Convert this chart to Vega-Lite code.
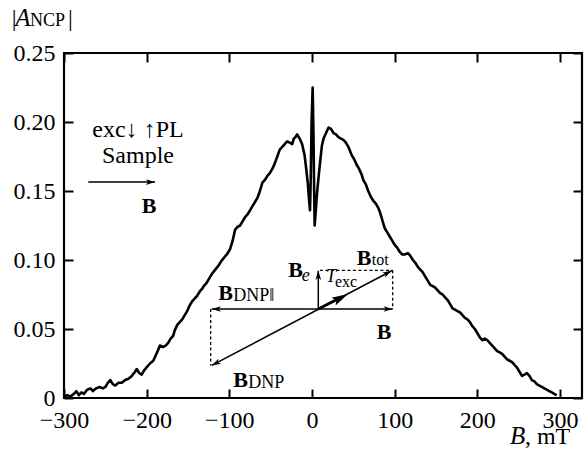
{
  "$schema": "https://vega.github.io/schema/vega-lite/v6.json",
  "autosize": {"type": "none"},
  "width": 518,
  "height": 345,
  "padding": {"left": 64, "top": 53, "right": 2, "bottom": 59},
  "background": "white",
  "config": {
    "view": {"stroke": "black", "strokeWidth": 2.2},
    "axis": {
      "domain": false, "grid": false, "title": null,
      "tickColor": "black", "tickWidth": 2, "tickSize": -9,
      "labelFont": "Liberation Serif", "labelFontSize": 24, "labelColor": "black"
    }
  },
  "datasets": {
    "curve": [
      {"B": -300, "A": 0.001}, {"B": -296, "A": 0.002}, {"B": -292, "A": 0.001}, {"B": -288, "A": 0.003},
      {"B": -285, "A": 0.005}, {"B": -282, "A": 0.002}, {"B": -279, "A": 0.004}, {"B": -276, "A": 0.003},
      {"B": -272, "A": 0.006}, {"B": -268, "A": 0.007}, {"B": -265, "A": 0.005}, {"B": -261, "A": 0.007},
      {"B": -257, "A": 0.008}, {"B": -253, "A": 0.007}, {"B": -250, "A": 0.008}, {"B": -247, "A": 0.011},
      {"B": -244, "A": 0.013}, {"B": -241, "A": 0.01}, {"B": -238, "A": 0.009}, {"B": -234, "A": 0.011},
      {"B": -230, "A": 0.011}, {"B": -226, "A": 0.013}, {"B": -222, "A": 0.014}, {"B": -218, "A": 0.016},
      {"B": -214, "A": 0.019}, {"B": -212, "A": 0.021}, {"B": -209, "A": 0.018}, {"B": -206, "A": 0.017},
      {"B": -203, "A": 0.02}, {"B": -199, "A": 0.023}, {"B": -196, "A": 0.025}, {"B": -192, "A": 0.027},
      {"B": -189, "A": 0.031}, {"B": -186, "A": 0.035}, {"B": -184, "A": 0.038}, {"B": -180, "A": 0.037},
      {"B": -177, "A": 0.038}, {"B": -174, "A": 0.04}, {"B": -171, "A": 0.043}, {"B": -168, "A": 0.045},
      {"B": -166, "A": 0.049}, {"B": -163, "A": 0.053}, {"B": -160, "A": 0.055}, {"B": -157, "A": 0.057},
      {"B": -154, "A": 0.06}, {"B": -151, "A": 0.063}, {"B": -148, "A": 0.067}, {"B": -145, "A": 0.07},
      {"B": -142, "A": 0.072}, {"B": -139, "A": 0.074}, {"B": -136, "A": 0.077}, {"B": -133, "A": 0.079},
      {"B": -131, "A": 0.081}, {"B": -128, "A": 0.083}, {"B": -125, "A": 0.086}, {"B": -121, "A": 0.09},
      {"B": -117, "A": 0.093}, {"B": -113, "A": 0.096}, {"B": -110, "A": 0.099}, {"B": -106, "A": 0.102},
      {"B": -103, "A": 0.104}, {"B": -99, "A": 0.108}, {"B": -96, "A": 0.114}, {"B": -93, "A": 0.122},
      {"B": -90, "A": 0.124}, {"B": -87, "A": 0.125}, {"B": -84, "A": 0.128}, {"B": -81, "A": 0.131},
      {"B": -78, "A": 0.133}, {"B": -75, "A": 0.136}, {"B": -72, "A": 0.139}, {"B": -69, "A": 0.142},
      {"B": -66, "A": 0.145}, {"B": -63, "A": 0.15}, {"B": -60, "A": 0.156}, {"B": -57, "A": 0.158},
      {"B": -54, "A": 0.161}, {"B": -51, "A": 0.163}, {"B": -48, "A": 0.166}, {"B": -45, "A": 0.17},
      {"B": -42, "A": 0.175}, {"B": -39, "A": 0.18}, {"B": -36, "A": 0.182}, {"B": -33, "A": 0.184},
      {"B": -30, "A": 0.186}, {"B": -27, "A": 0.185}, {"B": -24, "A": 0.184}, {"B": -22, "A": 0.188},
      {"B": -20, "A": 0.189}, {"B": -18, "A": 0.191}, {"B": -15, "A": 0.188}, {"B": -12, "A": 0.184},
      {"B": -9, "A": 0.176}, {"B": -7, "A": 0.166}, {"B": -5, "A": 0.155}, {"B": -3.5, "A": 0.143},
      {"B": -2.4, "A": 0.136}, {"B": -1.5, "A": 0.16}, {"B": -0.5, "A": 0.2}, {"B": 0.8, "A": 0.225},
      {"B": 1.8, "A": 0.19}, {"B": 2.6, "A": 0.15}, {"B": 3.2, "A": 0.125}, {"B": 4.5, "A": 0.135},
      {"B": 6, "A": 0.148}, {"B": 7.6, "A": 0.158}, {"B": 10, "A": 0.172}, {"B": 12, "A": 0.183},
      {"B": 14, "A": 0.188}, {"B": 17, "A": 0.192}, {"B": 20, "A": 0.196}, {"B": 23, "A": 0.195},
      {"B": 26, "A": 0.192}, {"B": 29, "A": 0.191}, {"B": 32, "A": 0.189}, {"B": 35, "A": 0.188},
      {"B": 38, "A": 0.187}, {"B": 41, "A": 0.185}, {"B": 44, "A": 0.182}, {"B": 46, "A": 0.179},
      {"B": 48, "A": 0.176}, {"B": 51, "A": 0.173}, {"B": 54, "A": 0.169}, {"B": 57, "A": 0.166},
      {"B": 60, "A": 0.162}, {"B": 62, "A": 0.158}, {"B": 65, "A": 0.155}, {"B": 68, "A": 0.15},
      {"B": 71, "A": 0.146}, {"B": 74, "A": 0.143}, {"B": 77, "A": 0.141}, {"B": 80, "A": 0.138},
      {"B": 82, "A": 0.135}, {"B": 85, "A": 0.129}, {"B": 88, "A": 0.123}, {"B": 91, "A": 0.12},
      {"B": 94, "A": 0.117}, {"B": 97, "A": 0.114}, {"B": 100, "A": 0.111}, {"B": 103, "A": 0.109},
      {"B": 106, "A": 0.106}, {"B": 109, "A": 0.104}, {"B": 112, "A": 0.104}, {"B": 116, "A": 0.105},
      {"B": 119, "A": 0.103}, {"B": 122, "A": 0.1}, {"B": 125, "A": 0.098}, {"B": 128, "A": 0.095},
      {"B": 131, "A": 0.093}, {"B": 134, "A": 0.091}, {"B": 137, "A": 0.088}, {"B": 140, "A": 0.085},
      {"B": 143, "A": 0.082}, {"B": 146, "A": 0.081}, {"B": 149, "A": 0.08}, {"B": 152, "A": 0.078},
      {"B": 155, "A": 0.076}, {"B": 158, "A": 0.075}, {"B": 161, "A": 0.073}, {"B": 164, "A": 0.071},
      {"B": 167, "A": 0.068}, {"B": 170, "A": 0.065}, {"B": 173, "A": 0.064}, {"B": 176, "A": 0.063},
      {"B": 179, "A": 0.062}, {"B": 182, "A": 0.06}, {"B": 185, "A": 0.058}, {"B": 188, "A": 0.057},
      {"B": 191, "A": 0.055}, {"B": 194, "A": 0.052}, {"B": 197, "A": 0.05}, {"B": 200, "A": 0.047},
      {"B": 203, "A": 0.044}, {"B": 206, "A": 0.042}, {"B": 209, "A": 0.043}, {"B": 212, "A": 0.042},
      {"B": 215, "A": 0.04}, {"B": 218, "A": 0.038}, {"B": 221, "A": 0.036}, {"B": 224, "A": 0.034},
      {"B": 227, "A": 0.033}, {"B": 230, "A": 0.032}, {"B": 233, "A": 0.03}, {"B": 236, "A": 0.028},
      {"B": 239, "A": 0.027}, {"B": 242, "A": 0.026}, {"B": 245, "A": 0.024}, {"B": 248, "A": 0.022},
      {"B": 251, "A": 0.019}, {"B": 254, "A": 0.016}, {"B": 257, "A": 0.017}, {"B": 260, "A": 0.018},
      {"B": 263, "A": 0.016}, {"B": 266, "A": 0.013}, {"B": 269, "A": 0.012}, {"B": 272, "A": 0.01},
      {"B": 275, "A": 0.009}, {"B": 278, "A": 0.008}, {"B": 281, "A": 0.007}, {"B": 284, "A": 0.006},
      {"B": 287, "A": 0.005}, {"B": 290, "A": 0.004}, {"B": 293, "A": 0.003}, {"B": 296, "A": 0.002}
    ],
    "solid": [
      {"x1": -121.3, "y1": 0.0645, "x2": 97.6, "y2": 0.0645},
      {"x1": 7.6, "y1": 0.0645, "x2": 7.6, "y2": 0.0922},
      {"x1": -121.3, "y1": 0.0236, "x2": 96.4, "y2": 0.0922},
      {"x1": -270.6, "y1": 0.1565, "x2": -189.9, "y2": 0.1565}
    ],
    "thick": [
      {"x1": 7.6, "y1": 0.0645, "x2": 36, "y2": 0.0732}
    ],
    "dashed": [
      {"x1": 9.6, "y1": 0.0925, "x2": 97.6, "y2": 0.0925},
      {"x1": 97.6, "y1": 0.0925, "x2": 97.6, "y2": 0.0645},
      {"x1": -122.6, "y1": 0.0645, "x2": -122.6, "y2": 0.0236}
    ],
    "headsRight": [
      {"x": 97.6, "y": 0.0645},
      {"x": -189.9, "y": 0.1565}
    ],
    "headsLeft": [
      {"x": -121.3, "y": 0.0645}
    ],
    "headsUp": [
      {"x": 7.6, "y": 0.0922}
    ],
    "headsUpRight": [
      {"x": 96.4, "y": 0.0922}
    ],
    "headsDownLeft": [
      {"x": -121.3, "y": 0.0236}
    ],
    "bigHead": [
      {"x": 43.6, "y": 0.0754}
    ],
    "centerText": [
      {"x": -210.5, "y": 0.1892, "t": "exc↓ ↑PL"},
      {"x": -210.5, "y": 0.1705, "t": "Sample"}
    ],
    "boldText": [
      {"x": -206, "y": 0.1344, "t": "B"},
      {"x": 54.1, "y": 0.0965, "t": "B"},
      {"x": -28.7, "y": 0.0879, "t": "B"},
      {"x": 78.3, "y": 0.0429, "t": "B"},
      {"x": -113.3, "y": 0.071, "t": "B"},
      {"x": -95.2, "y": 0.008, "t": "B"}
    ],
    "subText": [
      {"x": -95.2, "y": 0.0705, "t": "DNP‖"},
      {"x": -77.1, "y": 0.0074, "t": "DNP"},
      {"x": -341.1, "y": 0.2694, "t": "NCP"}
    ],
    "subSmall": [
      {"x": 72.2, "y": 0.0965, "t": "tot"},
      {"x": 27.8, "y": 0.0802, "t": "exc"}
    ],
    "smallItalic": [
      {"x": -12.5, "y": 0.085, "t": "e"},
      {"x": 16.9, "y": 0.0838, "t": "T"}
    ],
    "plainLeft": [
      {"x": -363.3, "y": 0.2694, "t": "|"},
      {"x": -295.2, "y": 0.2694, "t": "|"},
      {"x": 257.5, "y": -0.0332, "t": ", mT"}
    ],
    "italicLarge": [
      {"x": -359, "y": 0.2694, "t": "A"},
      {"x": 239.5, "y": -0.0332, "t": "B"}
    ]
  },
  "resolve": {"axis": {"x": "independent", "y": "independent"}},
  "layer": [
    {
      "data": {"name": "curve"},
      "mark": {"type": "line", "color": "black", "strokeWidth": 2.6, "strokeJoin": "round"},
      "encoding": {
        "x": {"field": "B", "type": "quantitative",
              "scale": {"domain": [-300, 326.6], "nice": false, "zero": false},
              "axis": {"orient": "bottom", "values": [-300, -200, -100, 0, 100, 200, 300], "labelPadding": 19, "labelFlush": false}},
        "y": {"field": "A", "type": "quantitative",
              "scale": {"domain": [0, 0.25], "nice": false, "zero": false},
              "axis": {"orient": "left", "values": [0, 0.05, 0.1, 0.15, 0.2, 0.25], "labelPadding": 18, "labelFlush": false,
                       "labelExpr": "datum.value == 0 ? '0' : format(datum.value, '.2f')"}}
      }
    },
    {
      "data": {"name": "curve"},
      "mark": {"type": "line", "opacity": 0},
      "encoding": {
        "x": {"field": "B", "type": "quantitative",
              "axis": {"orient": "top", "values": [-300, -200, -100, 0, 100, 200, 300], "labels": false}},
        "y": {"field": "A", "type": "quantitative",
              "axis": {"orient": "right", "values": [0, 0.05, 0.1, 0.15, 0.2, 0.25], "labels": false}}
      }
    },
    {
      "data": {"name": "solid"},
      "mark": {"type": "rule", "color": "black", "strokeWidth": 1.5},
      "encoding": {
        "x": {"field": "x1", "type": "quantitative", "axis": null},
        "y": {"field": "y1", "type": "quantitative", "axis": null},
        "x2": {"field": "x2"},
        "y2": {"field": "y2"}
      }
    },
    {
      "data": {"name": "thick"},
      "mark": {"type": "rule", "color": "black", "strokeWidth": 3},
      "encoding": {
        "x": {"field": "x1", "type": "quantitative", "axis": null},
        "y": {"field": "y1", "type": "quantitative", "axis": null},
        "x2": {"field": "x2"},
        "y2": {"field": "y2"}
      }
    },
    {
      "data": {"name": "dashed"},
      "mark": {"type": "rule", "color": "black", "strokeWidth": 1.3, "strokeDash": [3, 2.5]},
      "encoding": {
        "x": {"field": "x1", "type": "quantitative", "axis": null},
        "y": {"field": "y1", "type": "quantitative", "axis": null},
        "x2": {"field": "x2"},
        "y2": {"field": "y2"}
      }
    },
    {
      "data": {"name": "headsRight"},
      "mark": {"type": "point", "filled": true, "color": "black", "opacity": 1, "size": 130, "angle": 90,
               "shape": "M0,0L0.5,1.6L0,1.2L-0.5,1.6Z"},
      "encoding": {
        "x": {"field": "x", "type": "quantitative", "axis": null},
        "y": {"field": "y", "type": "quantitative", "axis": null}
      }
    },
    {
      "data": {"name": "headsLeft"},
      "mark": {"type": "point", "filled": true, "color": "black", "opacity": 1, "size": 130, "angle": 270,
               "shape": "M0,0L0.5,1.6L0,1.2L-0.5,1.6Z"},
      "encoding": {
        "x": {"field": "x", "type": "quantitative", "axis": null},
        "y": {"field": "y", "type": "quantitative", "axis": null}
      }
    },
    {
      "data": {"name": "headsUp"},
      "mark": {"type": "point", "filled": true, "color": "black", "opacity": 1, "size": 130, "angle": 0,
               "shape": "M0,0L0.5,1.6L0,1.2L-0.5,1.6Z"},
      "encoding": {
        "x": {"field": "x", "type": "quantitative", "axis": null},
        "y": {"field": "y", "type": "quantitative", "axis": null}
      }
    },
    {
      "data": {"name": "headsUpRight"},
      "mark": {"type": "point", "filled": true, "color": "black", "opacity": 1, "size": 130, "angle": 62,
               "shape": "M0,0L0.5,1.6L0,1.2L-0.5,1.6Z"},
      "encoding": {
        "x": {"field": "x", "type": "quantitative", "axis": null},
        "y": {"field": "y", "type": "quantitative", "axis": null}
      }
    },
    {
      "data": {"name": "headsDownLeft"},
      "mark": {"type": "point", "filled": true, "color": "black", "opacity": 1, "size": 130, "angle": 242,
               "shape": "M0,0L0.5,1.6L0,1.2L-0.5,1.6Z"},
      "encoding": {
        "x": {"field": "x", "type": "quantitative", "axis": null},
        "y": {"field": "y", "type": "quantitative", "axis": null}
      }
    },
    {
      "data": {"name": "bigHead"},
      "mark": {"type": "point", "filled": true, "color": "black", "opacity": 1, "size": 420, "angle": 62,
               "shape": "M0,0L0.42,1.6L0,1.3L-0.42,1.6Z"},
      "encoding": {
        "x": {"field": "x", "type": "quantitative", "axis": null},
        "y": {"field": "y", "type": "quantitative", "axis": null}
      }
    },
    {
      "data": {"name": "centerText"},
      "mark": {"type": "text", "align": "center", "baseline": "alphabetic", "font": "Liberation Serif", "fontSize": 24, "color": "black"},
      "encoding": {
        "x": {"field": "x", "type": "quantitative", "axis": null},
        "y": {"field": "y", "type": "quantitative", "axis": null},
        "text": {"field": "t"}
      }
    },
    {
      "data": {"name": "boldText"},
      "mark": {"type": "text", "align": "left", "baseline": "alphabetic", "font": "Liberation Serif", "fontSize": 22, "fontWeight": "bold", "color": "black"},
      "encoding": {
        "x": {"field": "x", "type": "quantitative", "axis": null},
        "y": {"field": "y", "type": "quantitative", "axis": null},
        "text": {"field": "t"}
      }
    },
    {
      "data": {"name": "subText"},
      "mark": {"type": "text", "align": "left", "baseline": "alphabetic", "font": "Liberation Serif", "fontSize": 18, "color": "black"},
      "encoding": {
        "x": {"field": "x", "type": "quantitative", "axis": null},
        "y": {"field": "y", "type": "quantitative", "axis": null},
        "text": {"field": "t"}
      }
    },
    {
      "data": {"name": "subSmall"},
      "mark": {"type": "text", "align": "left", "baseline": "alphabetic", "font": "Liberation Serif", "fontSize": 16, "color": "black"},
      "encoding": {
        "x": {"field": "x", "type": "quantitative", "axis": null},
        "y": {"field": "y", "type": "quantitative", "axis": null},
        "text": {"field": "t"}
      }
    },
    {
      "data": {"name": "smallItalic"},
      "mark": {"type": "text", "align": "left", "baseline": "alphabetic", "font": "Liberation Serif", "fontSize": 18, "fontStyle": "italic", "color": "black"},
      "encoding": {
        "x": {"field": "x", "type": "quantitative", "axis": null},
        "y": {"field": "y", "type": "quantitative", "axis": null},
        "text": {"field": "t"}
      }
    },
    {
      "data": {"name": "plainLeft"},
      "mark": {"type": "text", "align": "left", "baseline": "alphabetic", "font": "Liberation Serif", "fontSize": 24, "color": "black"},
      "encoding": {
        "x": {"field": "x", "type": "quantitative", "axis": null},
        "y": {"field": "y", "type": "quantitative", "axis": null},
        "text": {"field": "t"}
      }
    },
    {
      "data": {"name": "italicLarge"},
      "mark": {"type": "text", "align": "left", "baseline": "alphabetic", "font": "Liberation Serif", "fontSize": 25, "fontStyle": "italic", "color": "black"},
      "encoding": {
        "x": {"field": "x", "type": "quantitative", "axis": null},
        "y": {"field": "y", "type": "quantitative", "axis": null},
        "text": {"field": "t"}
      }
    }
  ]
}
